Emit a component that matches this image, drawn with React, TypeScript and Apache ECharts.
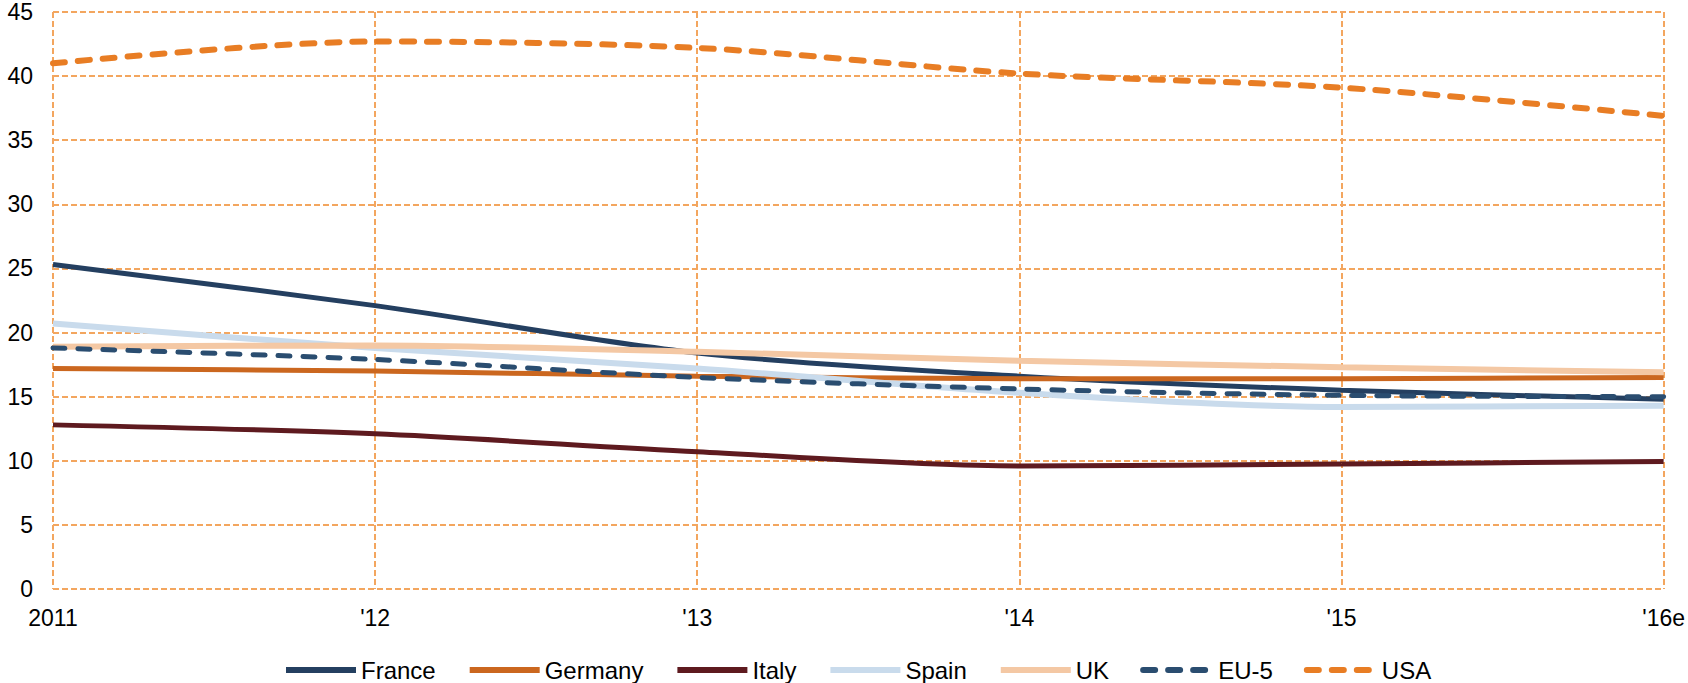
import React, { useEffect, useRef } from "react";
import * as echarts from "echarts";

const categories = ["2011", "'12", "'13", "'14", "'15", "'16e"];
const yTicks = { min: 0, max: 45, interval: 5 };

const france = [25.3, 22.1, 18.4, 16.6, 15.5, 14.8];
const germany = [17.2, 17.0, 16.6, 16.4, 16.4, 16.5];
const italy = [12.8, 12.1, 10.7, 9.6, 9.75, 9.95];
const spain = [20.7, 18.8, 17.2, 15.3, 14.2, 14.3];
const uk = [18.9, 19.0, 18.5, 17.8, 17.3, 16.9];
const eu5 = [18.8, 17.9, 16.5, 15.6, 15.1, 15.0];
const usa = [41.0, 42.7, 42.2, 40.2, 39.1, 36.9];

const seriesNames = ["France", "Germany", "Italy", "Spain", "UK", "EU-5", "USA"];
const seriesData = [france, germany, italy, spain, uk, eu5, usa];
const seriesColors = ["#243F60", "#CB671F", "#5E1A1F", "#C9DBEC", "#F4C8A4", "#2A4D70", "#E87D24"];
const seriesWidths = [5, 5, 5, 6, 6, 5, 6];
const seriesDashed = [false, false, false, false, false, true, true];

const gridColor = "#F3A65F";
const font = "'Liberation Sans', Arial, sans-serif";

export default function App() {
  const ref = useRef<HTMLDivElement>(null);
  useEffect(() => {
    if (!ref.current) return;
    const chart = echarts.init(ref.current, null, { renderer: "svg" });
    chart.setOption({
      animation: false,
      textStyle: { fontFamily: font },
      grid: { left: 53, right: 24, top: 12, bottom: 94, containLabel: false },
      legend: {
        top: 653,
        left: 278,
        itemWidth: 70,
        itemHeight: 12,
        itemGap: 31,
        textStyle: { fontSize: 24, color: "#000", fontFamily: font },
        lineStyle: { width: 6 },
        itemStyle: { color: "rgba(0,0,0,0)", borderColor: "rgba(0,0,0,0)", borderWidth: 0 },
        data: seriesNames,
      },
      xAxis: {
        type: "category",
        boundaryGap: false,
        data: categories,
        axisLine: { show: false },
        axisTick: { show: false },
        axisLabel: { color: "#000", fontSize: 23, margin: 17, fontFamily: font },
        splitLine: { show: true, lineStyle: { color: gridColor, width: 2, type: [6, 3] } },
      },
      yAxis: {
        type: "value",
        min: yTicks.min,
        max: yTicks.max,
        interval: yTicks.interval,
        axisLine: { show: false },
        axisTick: { show: false },
        axisLabel: { color: "#000", fontSize: 23, margin: 20, fontFamily: font },
        splitLine: { show: true, lineStyle: { color: gridColor, width: 2, type: [6, 3] } },
      },
      series: seriesNames.map((name, i) => ({
        name,
        type: "line",
        data: seriesData[i],
        smooth: 0.3,
        symbol: "none",
        color: seriesColors[i],
        lineStyle: {
          color: seriesColors[i],
          width: seriesWidths[i],
          type: seriesDashed[i] ? [12, 13] : "solid",
          cap: seriesDashed[i] ? "round" : "butt",
        },
      })),
    });
    return () => chart.dispose();
  }, []);
  return (
    <div
      ref={ref}
      style={{ position: "absolute", left: 0, top: 0, width: 1688, height: 683 }}
    />
  );
}
